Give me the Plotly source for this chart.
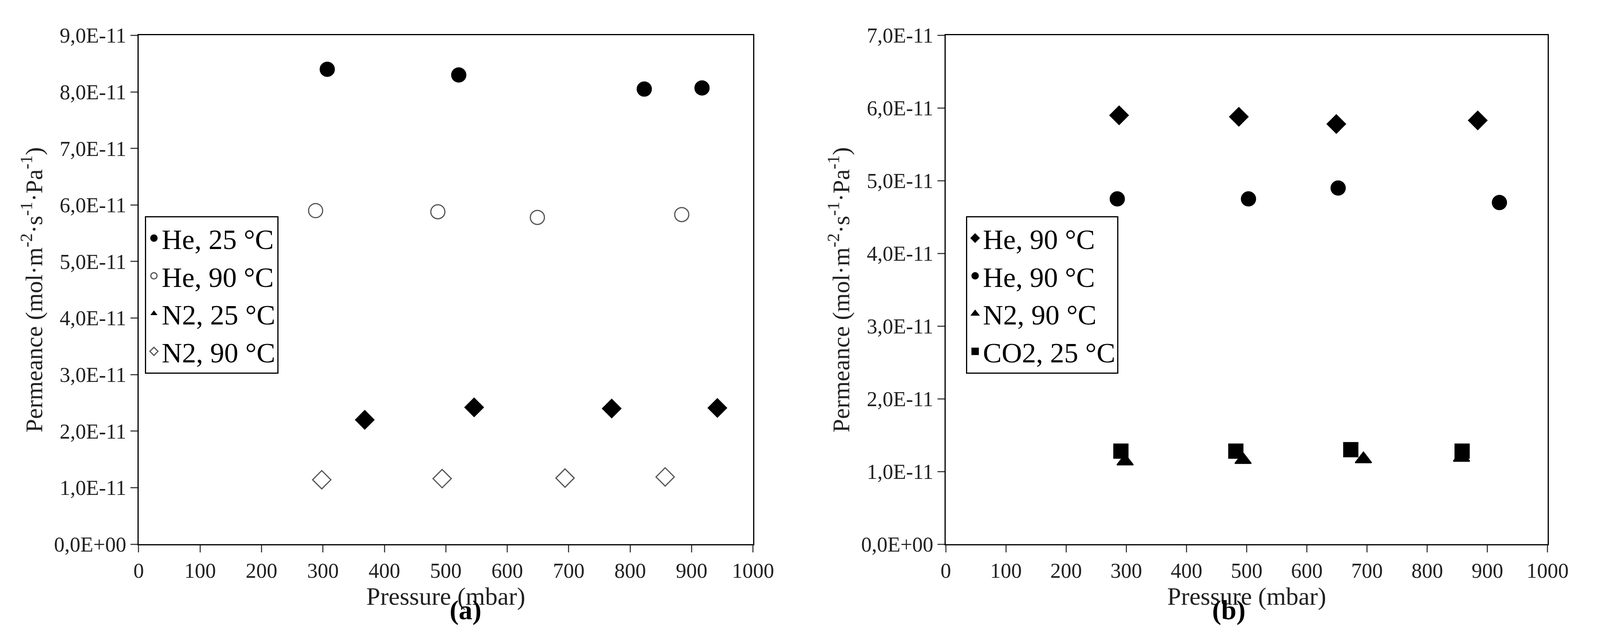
import plotly.graph_objects as go

# Panel (a)
a_he25_x = [307, 521, 823, 917]
a_he25_y = [8.4e-11, 8.3e-11, 8.05e-11, 8.07e-11]
a_he90_x = [288, 487, 649, 884]
a_he90_y = [5.9e-11, 5.88e-11, 5.78e-11, 5.83e-11]
a_n225_x = [368, 546, 770, 942]
a_n225_y = [2.2e-11, 2.42e-11, 2.4e-11, 2.41e-11]
a_n290_x = [298, 494, 694, 857]
a_n290_y = [1.14e-11, 1.16e-11, 1.17e-11, 1.19e-11]
# Panel (b)
b_he90d_x = [288, 487, 649, 884]
b_he90d_y = [5.9e-11, 5.88e-11, 5.78e-11, 5.83e-11]
b_he90c_x = [285, 503, 652, 920]
b_he90c_y = [4.75e-11, 4.75e-11, 4.9e-11, 4.7e-11]
b_n290_x = [298, 494, 694, 857]
b_n290_y = [1.14e-11, 1.16e-11, 1.17e-11, 1.19e-11]
b_co2_x = [291, 482, 673, 858]
b_co2_y = [1.28e-11, 1.28e-11, 1.3e-11, 1.28e-11]

xticks = [0, 100, 200, 300, 400, 500, 600, 700, 800, 900, 1000]
a_yticks = [i * 1e-11 for i in range(10)]
a_ylabels = ["0,0E+00"] + [f"{i},0E-11" for i in range(1, 10)]
b_yticks = [i * 1e-11 for i in range(8)]
b_ylabels = ["0,0E+00"] + [f"{i},0E-11" for i in range(1, 8)]

FONT = "Liberation Serif"
MS = 36
fig = go.Figure()

def add(x, y, name, sym, fill, xa, ya, leg, show=True):
    fig.add_trace(go.Scatter(
        x=x, y=y, mode="markers", name=name, xaxis=xa, yaxis=ya, legend=leg,
        showlegend=show,
        marker=dict(symbol=sym, size=MS, color=fill,
                    line=dict(color="#000000" if fill == "black" else "#555555", width=3))))

add(a_he25_x, a_he25_y, "He, 25 °C", "circle", "black", "x", "y", "legend")
add(a_he90_x, a_he90_y, "He, 90 °C", "circle", "white", "x", "y", "legend")
add(a_n225_x, a_n225_y, "N2, 25 °C", "diamond", "black", "x", "y", "legend", show=False)
fig.add_trace(go.Scatter(x=[None], y=[None], mode="markers", name="N2, 25 °C",
                         xaxis="x", yaxis="y", legend="legend",
                         marker=dict(symbol="triangle-up", size=MS, color="black")))
add(a_n290_x, a_n290_y, "N2, 90 °C", "diamond", "white", "x", "y", "legend")

add(b_he90d_x, b_he90d_y, "He, 90 °C", "diamond", "black", "x2", "y2", "legend2")
add(b_he90c_x, b_he90c_y, "He, 90 °C", "circle", "black", "x2", "y2", "legend2")
add(b_n290_x, b_n290_y, "N2, 90 °C", "triangle-up", "black", "x2", "y2", "legend2")
add(b_co2_x, b_co2_y, "CO2, 25 °C", "square", "black", "x2", "y2", "legend2")

ax = dict(range=[0, 1000], tickvals=xticks, ticks="outside", ticklen=18, tickwidth=3,
          showline=True, linewidth=3, linecolor="black", mirror=True, showgrid=False,
          zeroline=False, tickfont=dict(size=54, family=FONT, color="#222"),
          title=dict(text="Pressure (mbar)", font=dict(size=64, family=FONT, color="#222"), standoff=6))
ytitle = "Permeance (mol·m<sup>-2</sup>·s<sup>-1</sup>·Pa<sup>-1</sup>)"
ay = dict(ticks="outside", ticklen=18, tickwidth=3, showline=True, linewidth=3, linecolor="black",
          mirror=True, showgrid=False, zeroline=False,
          tickfont=dict(size=54, family=FONT, color="#222"),
          title=dict(text=ytitle, font=dict(size=62, family=FONT, color="#222"), standoff=10))

legstyle = dict(font=dict(size=72, family=FONT, color="black"), bordercolor="black", borderwidth=3,
                bgcolor="white", xanchor="left", yanchor="top", tracegroupgap=0, itemwidth=30)

fig.update_layout(
    autosize=True, paper_bgcolor="white", plot_bgcolor="white",
    margin=dict(l=0, r=0, t=0, b=0),
    xaxis=dict(ax, domain=[0.083, 0.475], anchor="y"),
    yaxis=dict(ay, domain=[0.138, 0.966], range=[0, 9e-11], tickvals=a_yticks, ticktext=a_ylabels, anchor="x"),
    xaxis2=dict(ax, domain=[0.598, 0.982], anchor="y2"),
    yaxis2=dict(ay, domain=[0.138, 0.966], range=[0, 7e-11], tickvals=b_yticks, ticktext=b_ylabels, anchor="x2"),
    legend=dict(legstyle, x=0.087, y=0.672),
    legend2=dict(legstyle, x=0.611, y=0.672),
    annotations=[
        dict(text="<b>(a)</b>", x=0.281, y=0.005, xref="paper", yref="paper", showarrow=False,
             yanchor="bottom", font=dict(size=70, family=FONT, color="black")),
        dict(text="<b>(b)</b>", x=0.79, y=0.005, xref="paper", yref="paper", showarrow=False,
             yanchor="bottom", font=dict(size=70, family=FONT, color="black")),
    ],
)
fig.write_html("out.html", default_width="100%", default_height="100vh")
